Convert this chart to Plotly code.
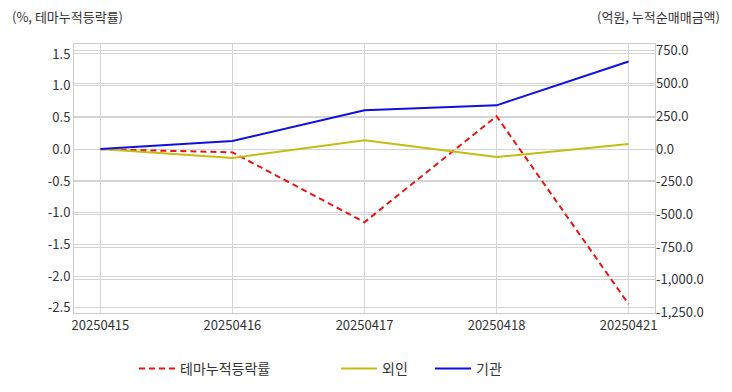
import plotly.graph_objects as go

dates = ["20250415", "20250416", "20250417", "20250418", "20250421"]
theme_rate = [0.0, -0.05, -1.15, 0.52, -2.44]
foreign = [0.0, -68.0, 68.0, -61.0, 38.0]
institution = [0.0, 61.0, 296.0, 334.0, 669.0]

left_ticks = [1.5, 1.0, 0.5, 0.0, -0.5, -1.0, -1.5, -2.0, -2.5]
right_ticks = [750, 500, 250, 0, -250, -500, -750, -1000, -1250]

FONT = "Noto Sans CJK KR"
OFF = 8  # default page body margin
W, H = 732 - OFF, 392 - OFF
ML, MT = 74 - OFF, 44 - OFF
MR, MB = W - (655 - OFF), H - (313 - OFF)
PW, PH = W - ML - MR, H - MT - MB

fig = go.Figure()
fig.add_trace(go.Scatter(x=dates, y=theme_rate, name="테마누적등락률", mode="lines",
                         line=dict(color="#e81515", width=2, dash="6px,4px"), yaxis="y",
                         legend="legend"))
fig.add_trace(go.Scatter(x=dates, y=foreign, name="외인", mode="lines",
                         line=dict(color="#c4bc10", width=2), yaxis="y2",
                         legend="legend2"))
fig.add_trace(go.Scatter(x=dates, y=institution, name="기관", mode="lines",
                         line=dict(color="#1010dd", width=2), yaxis="y2",
                         legend="legend3"))

def leg(px):
    return dict(orientation="h", xref="container", yref="container",
                x=(px - OFF - 5) / W, xanchor="left", y=1 - (369 - OFF) / H, yanchor="middle",
                font=dict(size=14, color="#333333"), bgcolor="rgba(0,0,0,0)",
                itemwidth=36)

fig.update_layout(
    width=W, height=H,
    margin=dict(l=ML, r=MR, t=MT, b=MB, autoexpand=False),
    paper_bgcolor="white", plot_bgcolor="white",
    font=dict(family=FONT, size=13, color="#333333"),
    xaxis=dict(type="category", range=[-0.2, 4.2], showgrid=True, gridcolor="#d4d4d4",
               linecolor="#cccccc", mirror=True, showline=True, ticks="",
               automargin=False),
    yaxis=dict(range=[-2.58, 1.657], tickvals=left_ticks,
               ticktext=[f"{v:.1f}" for v in left_ticks],
               showgrid=True, gridcolor="#d4d4d4", zeroline=False,
               showline=True, linecolor="#cccccc", mirror=True, automargin=False),
    yaxis2=dict(range=[-1253, 803], overlaying="y", side="right",
                tickvals=right_ticks,
                ticktext=[f"{v:,.1f}" for v in right_ticks],
                showgrid=True, gridcolor="#d4d4d4", zeroline=False, automargin=False),
    legend=leg(139),
    legend2=leg(341),
    legend3=leg(435),
    showlegend=True,
)

fig.add_annotation(text="(%, 테마누적등락률)", xref="paper", yref="paper",
                   x=(10 - OFF - ML) / PW, y=1 + (MT - (16 - OFF)) / PH,
                   xanchor="left", yanchor="middle", showarrow=False,
                   font=dict(size=13, color="#333333"))
fig.add_annotation(text="(억원, 누적순매매금액)", xref="paper", yref="paper",
                   x=(722 - OFF - ML) / PW, y=1 + (MT - (16 - OFF)) / PH,
                   xanchor="right", yanchor="middle", showarrow=False,
                   font=dict(size=13, color="#333333"))

fig.write_html("out.html")
